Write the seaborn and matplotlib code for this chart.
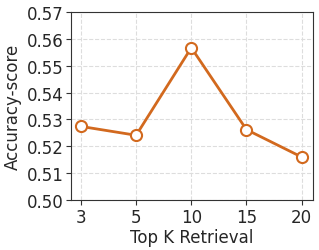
import matplotlib
matplotlib.use("Agg")
import matplotlib.pyplot as plt
import seaborn as sns
import pandas as pd

top_k = ["3", "5", "10", "15", "20"]
accuracy = [0.5274, 0.5241, 0.5567, 0.5262, 0.5160]
yticks = [0.50, 0.51, 0.52, 0.53, 0.54, 0.55, 0.56, 0.57]

sns.set_style("ticks")
plt.rcParams['font.family'] = ['DejaVu Sans']

df = pd.DataFrame({"k": top_k, "acc": accuracy})
fig = plt.figure(figsize=(3.19, 2.51), dpi=100)
ax = fig.add_axes([71/319, 1 - 201/251, (312.7-71)/319, (201-13)/251])
color = "#D2691E"
sns.lineplot(data=df, x="k", y="acc", ax=ax, color=color, linewidth=2,
             marker="o", markersize=8, markerfacecolor="white",
             markeredgecolor=color, markeredgewidth=1.5, sort=False)
ax.set_xlim(-0.18, 4.2)
ax.set_ylim(0.50, 0.57)
ax.set_yticks(yticks)
ax.set_yticklabels([f"{v:.2f}" for v in yticks])
ax.grid(True, linestyle="--", color="#dddddd", linewidth=0.8)
ax.set_xlabel("Top K Retrieval", fontsize=12, labelpad=2)
ax.set_ylabel("Accuracy-score", fontsize=12, labelpad=3)
ax.tick_params(labelsize=12, color="#333333", length=3.5, pad=2)
for s in ax.spines.values():
    s.set_color("#333333")
fig.savefig("out.png", dpi=100)
